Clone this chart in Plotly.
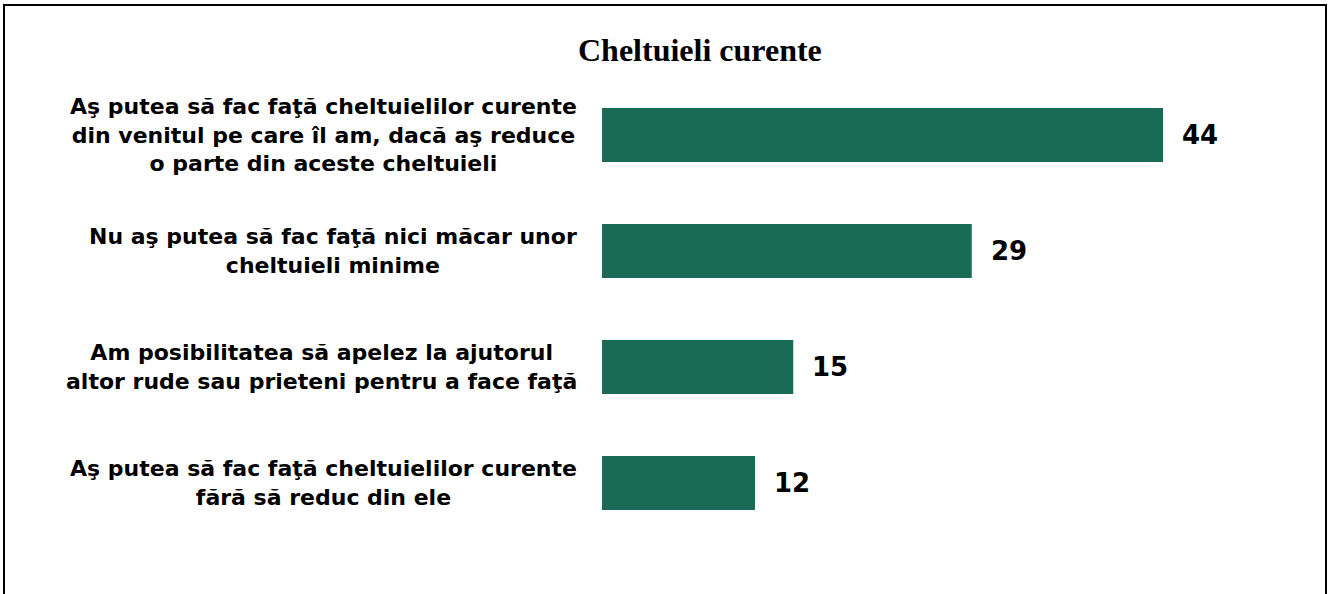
import plotly.graph_objects as go

categories = [
    "Aş putea să fac faţă cheltuielilor curente<br>din venitul pe care îl am, dacă aş reduce<br>o parte din aceste cheltuieli",
    "Nu aş putea să fac faţă nici măcar unor<br>cheltuieli minime",
    "Am posibilitatea să apelez la ajutorul<br>altor rude sau prieteni pentru a face faţă",
    "Aş putea să fac faţă cheltuielilor curente<br>fără să reduc din ele",
]
values = [44, 29, 15, 12]
title_text = "Cheltuieli curente"

W, H = 1328, 594
L, R, T, B = 602, 25, 77, 53
pw, ph = W - L - R, H - T - B
xmax = pw / 12.75

fig = go.Figure(go.Bar(
    x=values, y=categories, orientation="h",
    marker=dict(color="#1a6b55", line=dict(width=0)),
    width=0.465, hoverinfo="skip",
))

annotations = []
for c, v in zip(categories, values):
    annotations.append(dict(x=0, y=c, xref="paper", yref="y", text=c, showarrow=False,
                            xanchor="right", yanchor="middle", xshift=-23, align="center",
                            font=dict(family="DejaVu Sans", size=22, color="black", weight="bold")))
    annotations.append(dict(x=v, y=c, xref="x", yref="y", text=str(v), showarrow=False,
                            xanchor="left", yanchor="middle", xshift=17,
                            font=dict(family="DejaVu Sans", size=26, color="black", weight="bold")))

def px(xp):
    return (xp - L) / pw

def py(yp):
    return (H - B - yp) / ph

annotations.append(dict(x=px(700), y=py(50), xref="paper", yref="paper",
                        text=title_text, showarrow=False, xanchor="center", yanchor="middle",
                        font=dict(family="Liberation Serif", size=32, color="black", weight="bold")))

fig.update_layout(
    width=W, height=H,
    margin=dict(l=L, r=R, t=T, b=B),
    paper_bgcolor="white", plot_bgcolor="white",
    showlegend=False,
    xaxis=dict(range=[0, xmax], visible=False, fixedrange=True),
    yaxis=dict(autorange="reversed", visible=False, fixedrange=True),
    annotations=annotations,
    shapes=[dict(type="rect", xref="paper", yref="paper",
                 x0=px(4), x1=px(1326), y0=py(600), y1=py(5),
                 line=dict(color="black", width=2), fillcolor="rgba(0,0,0,0)")],
)

fig.write_html("out.html", config={"displayModeBar": False},
               post_script="document.body.style.margin='0';document.body.style.overflow='hidden';")
